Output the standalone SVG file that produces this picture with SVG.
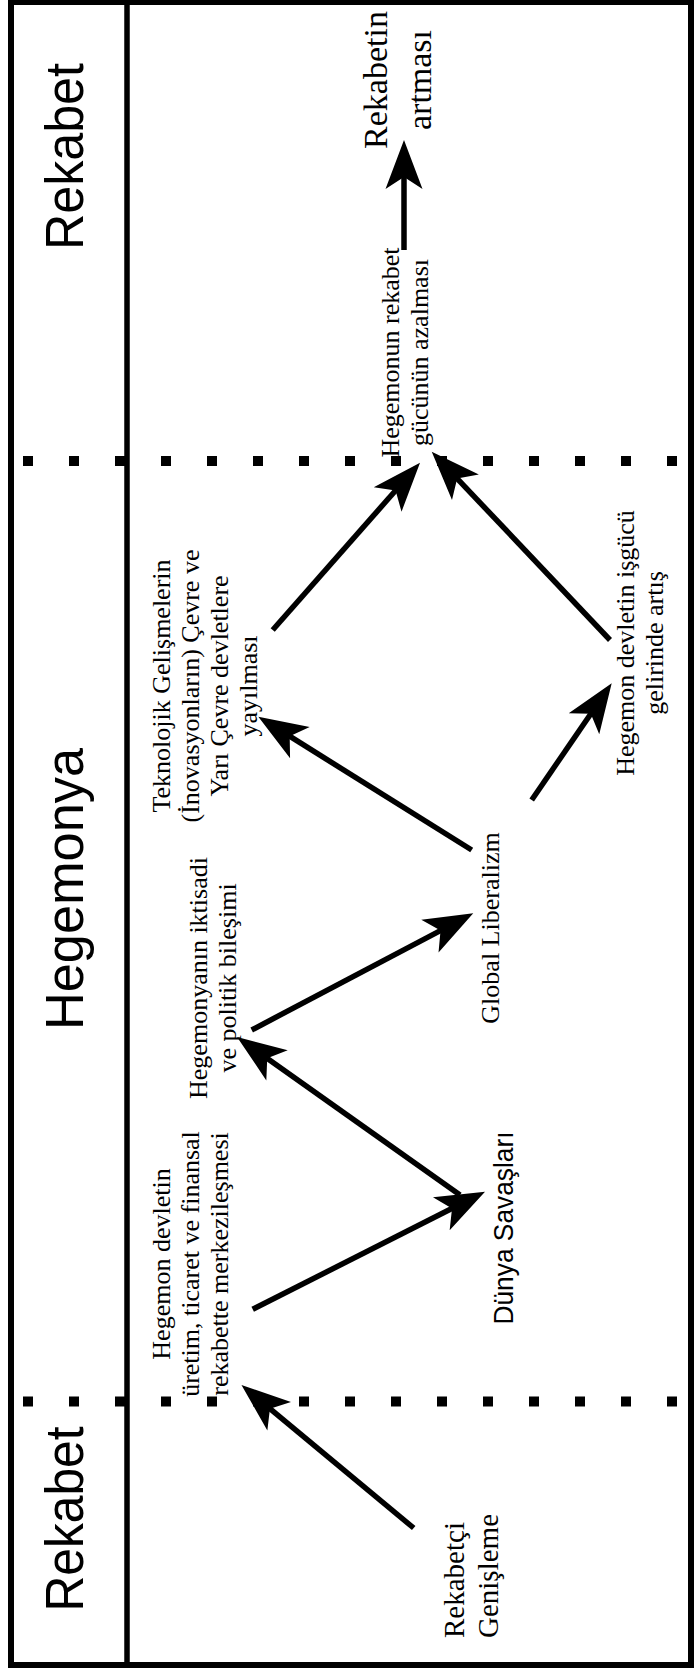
<svg xmlns="http://www.w3.org/2000/svg" width="694" height="1670" viewBox="0 0 694 1670">
  <style>
    .hdr { font-family: "Liberation Sans", Arial, sans-serif; font-size: 54px; fill: #000; }
    .lbl { font-family: "Liberation Serif", "Times New Roman", serif; font-size: 26px; fill: #000; }
    .sans { font-family: "Liberation Sans", Arial, sans-serif; font-size: 27px; fill: #000; }
    .conn { stroke: #000; stroke-width: 5.5; fill: none; marker-end: url(#ah); }
    .dots { stroke: #000; stroke-width: 10; stroke-dasharray: 10 36; fill: none; }
  </style>
  <defs>
    <marker id="ah" markerUnits="userSpaceOnUse" viewBox="-50 -20 52 40" markerWidth="52" markerHeight="40" refX="-35" refY="0" orient="auto" overflow="visible">
      <path d="M0,0 L-49,-18.5 L-37,0 L-49,18.5 Z" fill="#000"/>
    </marker>
  </defs>
  <rect width="694" height="1670" fill="#fff"/>

  <g id="frame">
    <rect x="11" y="2" width="680" height="1663" fill="none" stroke="#000" stroke-width="6"/>
    <line x1="127" y1="2" x2="127" y2="1665" stroke="#000" stroke-width="5.5"/>
    <line class="dots" x1="23" y1="461" x2="680" y2="461"/>
    <line class="dots" x1="23" y1="1401.5" x2="680" y2="1401.5"/>
  </g>

  <g id="phase-rekabet-top">
    <text class="hdr" transform="translate(83,156.5) rotate(-90)" text-anchor="middle" textLength="187" lengthAdjust="spacingAndGlyphs">Rekabet</text>
  </g>
  <g id="phase-hegemonya">
    <text class="hdr" transform="translate(83,889) rotate(-90)" text-anchor="middle" textLength="282" lengthAdjust="spacingAndGlyphs">Hegemonya</text>
  </g>
  <g id="phase-rekabet-bottom">
    <text class="hdr" transform="translate(83,1519) rotate(-90)" text-anchor="middle" textLength="185" lengthAdjust="spacingAndGlyphs">Rekabet</text>
  </g>

  <g id="n-rekabetci">
    <text class="lbl" style="font-size:29px" transform="translate(464,1638) rotate(-90)" text-anchor="start"><tspan x="0" y="0">Rekabetçi</tspan><tspan x="0" y="34">Genişleme</tspan></text>
  </g>
  <g id="n-merkezilesme">
    <text class="lbl" transform="translate(170,1264) rotate(-90)" text-anchor="middle"><tspan x="0" y="0">Hegemon devletin</tspan><tspan x="0" y="29">üretim, ticaret ve finansal</tspan><tspan x="0" y="58">rekabette merkezileşmesi</tspan></text>
  </g>
  <g id="n-dunya">
    <text class="sans" transform="translate(513,1228) rotate(-90)" text-anchor="middle" textLength="193" lengthAdjust="spacingAndGlyphs">Dünya Savaşları</text>
  </g>
  <g id="n-bilesim">
    <text class="lbl" transform="translate(207,978) rotate(-90)" text-anchor="middle"><tspan x="0" y="0">Hegemonyanın iktisadi</tspan><tspan x="0" y="29">ve politik bileşimi</tspan></text>
  </g>
  <g id="n-global">
    <text class="lbl" transform="translate(499,928) rotate(-90)" text-anchor="middle">Global Liberalizm</text>
  </g>
  <g id="n-teknoloji">
    <text class="lbl" transform="translate(170,686) rotate(-90)" text-anchor="middle"><tspan x="0" y="0">Teknolojik Gelişmelerin</tspan><tspan x="0" y="29">(İnovasyonların) Çevre ve</tspan><tspan x="0" y="58">Yarı Çevre devletlere</tspan><tspan x="0" y="87">yayılması</tspan></text>
  </g>
  <g id="n-isgucu">
    <text class="lbl" transform="translate(634,643) rotate(-90)" text-anchor="middle"><tspan x="0" y="0">Hegemon devletin işgücü</tspan><tspan x="0" y="29">gelirinde artış</tspan></text>
  </g>
  <g id="n-azalma">
    <text class="lbl" transform="translate(399,352.5) rotate(-90)" text-anchor="middle"><tspan x="0" y="0">Hegemonun rekabet</tspan><tspan x="0" y="29">gücünün azalması</tspan></text>
  </g>
  <g id="n-artma">
    <text class="lbl" style="font-size:34px" transform="translate(387,80) rotate(-90)" text-anchor="middle"><tspan x="0" y="0">Rekabetin</tspan><tspan x="0" y="44">artması</tspan></text>
  </g>

  <g id="connectors">
    <line class="conn" x1="413.7" y1="1528" x2="268.4" y2="1407.4"/>
    <line class="conn" x1="252.7" y1="1309.3" x2="453.8" y2="1207.5"/>
    <line class="conn" x1="460" y1="1195" x2="265.6" y2="1057.2"/>
    <line class="conn" x1="251.7" y1="1030" x2="442.3" y2="929.6"/>
    <line class="conn" x1="471.7" y1="850" x2="288" y2="735.2"/>
    <line class="conn" x1="531.7" y1="800" x2="591.9" y2="712.2"/>
    <line class="conn" x1="272.7" y1="630" x2="396.9" y2="489"/>
    <line class="conn" x1="610" y1="640" x2="455.8" y2="477.1"/>
    <line class="conn" x1="404" y1="250" x2="404" y2="175"/>
  </g>
</svg>
